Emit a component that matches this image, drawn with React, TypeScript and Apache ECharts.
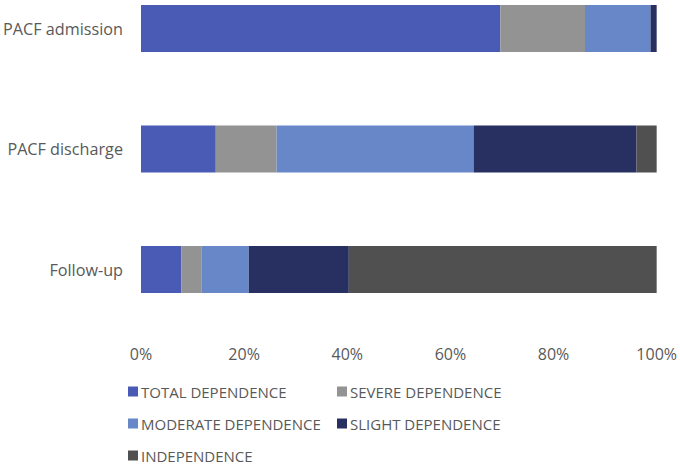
import React, { useEffect, useRef } from "react";
import * as echarts from "echarts";

const categories = ["PACF admission", "PACF discharge", "Follow-up"];
const seriesNames = [
  "TOTAL DEPENDENCE",
  "SEVERE DEPENDENCE",
  "MODERATE DEPENDENCE",
  "SLIGHT DEPENDENCE",
  "INDEPENDENCE",
];
const totalDependence = [69.7, 14.5, 7.8];
const severeDependence = [16.4, 11.8, 3.9];
const moderateDependence = [12.7, 38.2, 9.2];
const slightDependence = [1.2, 31.6, 19.4];
const independence = [0, 3.9, 59.7];
const colors = ["#4A5BB5", "#939393", "#6787C8", "#283062", "#505050"];

const FONT = "'Open Sans', sans-serif";

export default function App() {
  const ref = useRef<HTMLDivElement>(null);
  useEffect(() => {
    if (!ref.current) return;
    const chart = echarts.init(ref.current, undefined, { renderer: "svg" });
    const values = [totalDependence, severeDependence, moderateDependence, slightDependence, independence];
    const legendPos = [
      { left: 128, top: 384 },
      { left: 337, top: 384 },
      { left: 128, top: 416 },
      { left: 337, top: 416 },
      { left: 128, top: 448 },
    ];
    chart.setOption({
      animation: false,
      backgroundColor: "#ffffff",
      grid: { left: 141, right: 23, top: 28.5, height: 241, containLabel: false },
      xAxis: {
        type: "value",
        min: 0,
        max: 100,
        interval: 20,
        axisLine: { show: false },
        axisTick: { show: false },
        splitLine: { show: false },
        axisLabel: {
          formatter: "{value}%",
          color: "#595959",
          fontSize: 16,
          fontFamily: FONT,
          margin: 76,
        },
      },
      yAxis: {
        type: "category",
        data: categories,
        inverse: true,
        boundaryGap: false,
        axisLine: { show: false },
        axisTick: { show: false },
        splitLine: { show: false },
        axisLabel: {
          color: "#595959",
          fontSize: 16.2,
          fontFamily: FONT,
          margin: 18,
        },
      },
      legend: seriesNames.map((n, i) => ({
        data: [n],
        left: legendPos[i].left,
        top: legendPos[i].top,
        padding: 0,
        itemWidth: 10,
        itemHeight: 10,
        itemGap: 0,
        icon: "rect",
        textStyle: { color: "#595959", fontSize: 15, fontFamily: FONT, padding: [0, 0, 0, -2] },
        selectedMode: false,
      })),
      series: seriesNames.map((n, i) => ({
        name: n,
        type: "bar",
        stack: "total",
        data: values[i],
        barWidth: 47,
        itemStyle: { color: colors[i] },
      })),
    });
    return () => chart.dispose();
  }, []);
  return <div ref={ref} style={{ width: 680, height: 465, position: "absolute", left: 0, top: 0 }} />;
}
